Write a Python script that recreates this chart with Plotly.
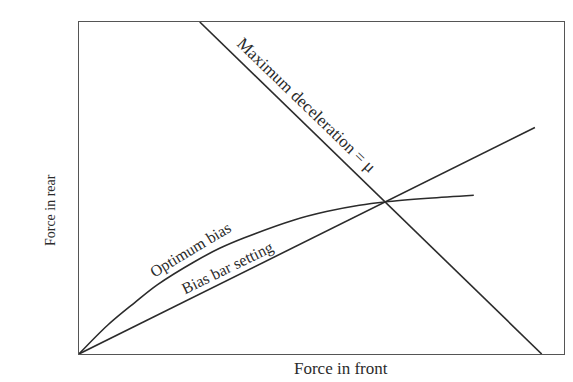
import plotly.graph_objects as go

# values (arbitrary force units, 0-100 on each axis)
optimum_front = [0, 6.0, 11.5, 16.2, 23.8, 29.1, 34.1, 44.2, 51.0, 57.8, 63.1, 72.0, 81.4]
optimum_rear = [0, 8.8, 15.5, 20.9, 27.8, 31.9, 35.0, 40.3, 42.9, 44.8, 45.8, 46.9, 47.8]

bias_bar_front = [0, 94.0]
bias_bar_rear = [0, 68.2]

max_decel_front = [24.9, 95.4]
max_decel_rear = [100, 0]

line_color = '#2b2b2b'
serif = 'Liberation Serif, Times New Roman, serif'

fig = go.Figure()

fig.add_trace(go.Scatter(x=optimum_front, y=optimum_rear, mode='lines',
                         line=dict(color=line_color, width=1.6, shape='spline', smoothing=1.0),
                         name='Optimum bias', hoverinfo='skip'))
fig.add_trace(go.Scatter(x=bias_bar_front, y=bias_bar_rear, mode='lines',
                         line=dict(color=line_color, width=1.6),
                         name='Bias bar setting', hoverinfo='skip'))
fig.add_trace(go.Scatter(x=max_decel_front, y=max_decel_rear, mode='lines',
                         line=dict(color=line_color, width=1.6),
                         name='Maximum deceleration', hoverinfo='skip'))

# labels laid along the lines
fig.add_annotation(x=47.0, y=75.0, text='Maximum deceleration = μ', textangle=44,
                   showarrow=False, font=dict(family=serif, size=17, color=line_color))
fig.add_annotation(x=23.0, y=31.4, text='Optimum bias', textangle=-31,
                   showarrow=False, font=dict(family=serif, size=16, color=line_color))
fig.add_annotation(x=30.7, y=25.8, text='Bias bar setting', textangle=-26,
                   showarrow=False, font=dict(family=serif, size=16, color=line_color))

# axis titles
fig.add_annotation(x=0.541, y=-0.078, xref='paper', yref='paper', text='Force in front',
                   showarrow=False, font=dict(family=serif, size=17, color=line_color))
fig.add_annotation(x=-0.077, y=0.434, xref='paper', yref='paper', text='Force in rear',
                   textangle=-90, showarrow=False, font=dict(family=serif, size=14, color=line_color))

axis_style = dict(range=[0, 100], showgrid=False, zeroline=False, showticklabels=False,
                  ticks='', showline=True, linecolor='#555', linewidth=1, mirror=True,
                  automargin=False)

# the page body adds an 8px offset, so the figure is sized to fit inside the window
fig.update_layout(width=557, height=374, showlegend=False,
                  margin=dict(l=71, r=1, t=14, b=28, autoexpand=False),
                  paper_bgcolor='white', plot_bgcolor='white',
                  xaxis=axis_style, yaxis=axis_style)

fig.write_html("out.html")
